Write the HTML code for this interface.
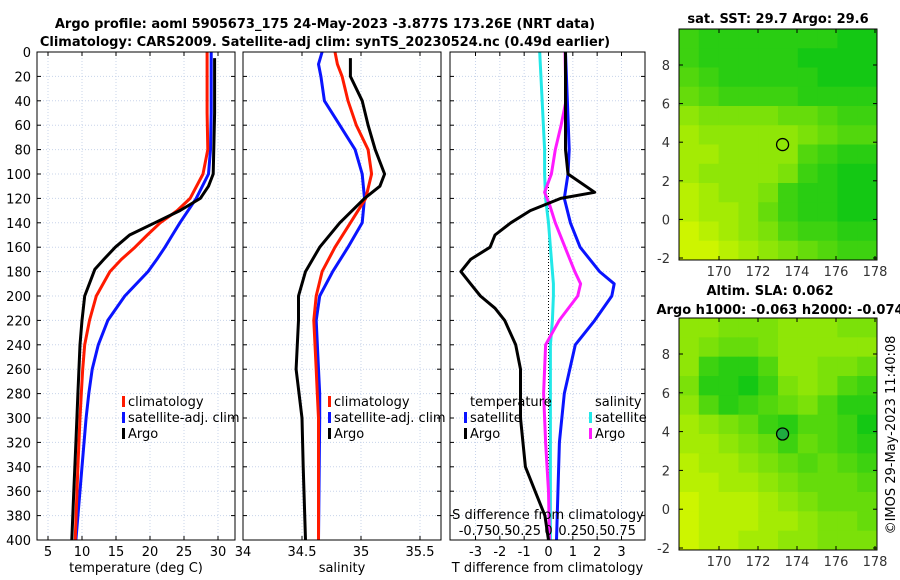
<!DOCTYPE html>
<html><head><meta charset="utf-8"><style>
body{margin:0;background:#fff}
svg{display:block;font-family:"DejaVu Sans","Liberation Sans",sans-serif}
</style></head><body>
<svg id="s" width="900" height="580" xmlns="http://www.w3.org/2000/svg">
<text x="325" y="28" font-size="13" font-weight="bold" text-anchor="middle">Argo profile: aoml 5905673_175 24-May-2023 -3.877S 173.26E (NRT data)</text>
<text x="325" y="46" font-size="13" font-weight="bold" text-anchor="middle">Climatology: CARS2009. Satellite-adj clim: synTS_20230524.nc (0.49d earlier)</text>
<text x="778" y="23" font-size="13" font-weight="bold" text-anchor="middle">sat. SST: 29.7 Argo: 29.6</text>
<text x="770" y="295" font-size="13" font-weight="bold" text-anchor="middle">Altim. SLA: 0.062</text>
<text x="780" y="314" font-size="13" font-weight="bold" text-anchor="middle">Argo h1000: -0.063 h2000: -0.074</text>
<text transform="translate(895,435) rotate(-90)" font-size="13" text-anchor="middle">©IMOS 29-May-2023 11:40:08</text>
</svg>
<script>
// ---- data ----
const depthsT = [0,50,80,100,120,130,140,150,160,170,180,200,220,240,260,280,300,340,400];
const tempClim = [28.4,28.4,28.5,27.8,25.9,24.0,21.5,19.6,17.8,15.8,14.1,12.1,11.1,10.4,10.1,9.9,9.7,9.4,9.0];
const tempSat  = [29.0,29.0,28.9,28.6,26.8,25.6,24.4,23.3,22.2,21.0,19.7,16.3,13.8,12.4,11.5,11.0,10.6,10.0,9.1];
const argoDepths = [5,50,100,110,120,130,140,150,160,170,178,200,220,240,280,320,360,400];
const tempArgo = [29.5,29.5,29.3,28.6,27.4,24.4,20.7,17.0,14.9,13.2,11.9,10.4,10.0,9.7,9.4,9.1,8.8,8.5];
const depthsS = [0,10,20,40,60,80,100,120,140,160,180,200,220,260,280,300,400];
const salClim = [34.78,34.80,34.84,34.89,34.96,35.06,35.09,35.04,34.91,34.78,34.67,34.62,34.60,34.62,34.63,34.64,34.64];
const salSat  = [34.67,34.64,34.66,34.69,34.82,34.95,35.01,35.03,35.01,34.89,34.76,34.65,34.62,34.64,34.65,34.65,34.64];
const salArgoDepths = [5,20,40,60,80,100,110,120,140,160,180,200,220,260,300,340,400];
const salArgo = [34.91,34.91,35.01,35.06,35.12,35.20,35.16,35.03,34.82,34.65,34.53,34.47,34.47,34.45,34.50,34.51,34.53];
const dDepths = [0,40,80,100,115,120,130,140,150,160,170,180,190,200,210,220,240,260,300,340,360,380,400];
const tDiffArgo = [0.7,0.7,0.7,0.8,1.9,0.5,-0.75,-1.55,-2.2,-2.4,-3.2,-3.6,-3.2,-2.8,-2.2,-1.8,-1.35,-1.15,-1.15,-0.95,-0.55,-0.15,0.0];
const sdDepths = [0,80,100,120,140,160,180,190,200,220,240,280,320,400];
const tDiffSat = [0.7,0.85,0.8,0.65,0.9,1.3,2.1,2.7,2.6,1.9,1.1,0.65,0.45,0.33];
const sDiffSat = [-0.09,-0.04,-0.04,-0.03,0.0,0.02,0.04,0.05,0.05,0.04,0.02,0.02,0.02,0.02];
const sdaDepths = [0,40,60,80,100,115,125,140,160,180,190,200,220,240,280,320,360,400];
const sDiffArgo = [0.17,0.18,0.13,0.07,0.03,-0.04,0.01,0.07,0.17,0.27,0.33,0.30,0.11,-0.03,-0.05,-0.03,0.0,0.01];
const depthTicks = [0,20,40,60,80,100,120,140,160,180,200,220,240,260,280,300,320,340,360,380,400];
const tTicks = [5,10,15,20,25,30];
const sTicks = [34,34.5,35,35.5];
const tdTicks = [-3,-2,-1,0,1,2,3];
const sdTicks = ["-0.75","-0.5","-0.25","0","0.25","0.5","0.75"];
const lonTicks = [170,172,174,176,178];
const latTicks = [-2,0,2,4,6,8];
const sstGrid = ["7888888899","7888889999","6788888999","5677778888","3444455677","2333334566","2233336788","2333347899","1233478899","1223578899","0123467788","0012345677"];
const slaGrid = ["3344433344","3455433333","3788633445","4889743467","3687654688","2345786679","2234575678","1223456567","1122345556","0111234555","0111223445","0112233444"];
const argoLon = 173.26, argoLat = 3.877;

// ---- helpers ----
const svg = document.getElementById('s');
const NS = 'http://www.w3.org/2000/svg';
function mk(tag, attrs, parent){ const e=document.createElementNS(NS,tag); for(const k in attrs) e.setAttribute(k,attrs[k]); (parent||svg).appendChild(e); return e; }
const Y0=52, Y1=540;
const yD = d => Y0 + d*(Y1-Y0)/400;
const panels = [
  {x0:37,x1:235,f:v=>48+(v-5)*6.8,ticks:tTicks,label:'temperature (deg C)',name:'temperature-panel'},
  {x0:243,x1:441,f:v=>243+(v-34)*118,ticks:sTicks,label:'salinity',name:'salinity-panel'},
  {x0:450,x1:645,f:v=>548.5+v*24.33,ticks:tdTicks,label:'T difference from climatology',name:'difference-panel'}
];
const sdX = v => 548.5 + v*97.3;

panels.forEach((p,i)=>{
  const g = mk('g',{});
  
  
  depthTicks.forEach(d=>{ if(d>0&&d<400){ const l=mk('line',{x1:p.x0,x2:p.x1,y1:yD(d),y2:yD(d),stroke:'#c8d4ea','stroke-dasharray':'1,2','stroke-width':1},g);
      }
    mk('line',{x1:p.x0,x2:p.x0+4,y1:yD(d),y2:yD(d),stroke:'#000'},g); mk('line',{x1:p.x1-4,x2:p.x1,y1:yD(d),y2:yD(d),stroke:'#000'},g);
    if(i===0){ const t=mk('text',{x:p.x0-6,y:yD(d)+5,'font-size':13,'text-anchor':'end'},g); t.textContent=d;
        }
  });
  p.ticks.forEach(v=>{ const x=p.f(v);
    if(x>p.x0+1&&x<p.x1-1){ const l=mk('line',{x1:x,x2:x,y1:Y0,y2:Y1,stroke:'#c8d4ea','stroke-dasharray':'1,2'},g);
        }
    mk('line',{x1:x,x2:x,y1:Y1,y2:Y1-4,stroke:'#000'},g); mk('line',{x1:x,x2:x,y1:Y0,y2:Y0+4,stroke:'#000'},g);
    const t=mk('text',{x:x,y:556,'font-size':13,'text-anchor':'middle'},g); t.textContent=v;
     
  });
  const lab=mk('text',{x:(p.x0+p.x1)/2,y:572,'font-size':13,'text-anchor':'middle'},g); lab.textContent=p.label;
   
});
mk('line',{x1:548.5,x2:548.5,y1:Y0,y2:Y1,stroke:'#000','stroke-dasharray':'1,2'});

function line(depths, vals, fx, color, name, w){
  const pts = depths.map((d,i)=>fx(vals[i]).toFixed(1)+','+yD(d).toFixed(1)).join(' ');
  const pl = mk('polyline',{points:pts,fill:'none',stroke:color,'stroke-width':w||3,'stroke-linejoin':'round'});
  
  
}
const fT=panels[0].f, fS=panels[1].f, fD=panels[2].f;
line(depthsT,tempSat,fT,'#0a14ff','temp-satellite-line');
line(depthsT,tempClim,fT,'#ff1a00','temp-climatology-line');
line(argoDepths,tempArgo,fT,'#000','temp-argo-line');
line(depthsS,salSat,fS,'#0a14ff','sal-satellite-line');
line(depthsS,salClim,fS,'#ff1a00','sal-climatology-line');
line(salArgoDepths,salArgo,fS,'#000','sal-argo-line');
line(sdDepths,sDiffSat,sdX,'#22e8e8','sdiff-satellite-line');
line(sdaDepths,sDiffArgo,sdX,'#ff1aff','sdiff-argo-line');
line(sdDepths,tDiffSat,fD,'#0a14ff','tdiff-satellite-line');
line(dDepths,tDiffArgo,fD,'#000','tdiff-argo-line');

panels.forEach(p=>{ const r=mk('rect',{x:p.x0,y:Y0,width:p.x1-p.x0,height:Y1-Y0,fill:'none',stroke:'#000'});
    });

const st=mk('text',{x:548,y:519,'font-size':13,'text-anchor':'middle'}); st.textContent='S difference from climatology';
 
sdTicks.forEach(v=>{ const t=mk('text',{x:sdX(parseFloat(v)),y:535,'font-size':13,'text-anchor':'middle'}); t.textContent=v;
    });

function leg(x,y,color,text,name){
  mk('rect',{x:x,y:y-10,width:3,height:11,fill:color});
  const t=mk('text',{x:x+6,y:y,'font-size':13}); t.textContent=text;
   
}
leg(122,406,'#ff1a00','climatology','legend-climatology');
leg(122,422,'#0a14ff','satellite-adj. clim','legend-satellite');
leg(122,438,'#000','Argo','legend-argo');
leg(328,406,'#ff1a00','climatology','legend-climatology-s');
leg(328,422,'#0a14ff','satellite-adj. clim','legend-satellite-s');
leg(328,438,'#000','Argo','legend-argo-s');
const tt=mk('text',{x:470,y:406,'font-size':13}); tt.textContent='temperature';
 
const sh=mk('text',{x:595,y:406,'font-size':13}); sh.textContent='salinity';
 
leg(464,422,'#0a14ff','satellite','legend-tdiff-satellite');
leg(464,438,'#000','Argo','legend-tdiff-argo');
leg(589,422,'#22e8e8','satellite','legend-sdiff-satellite');
leg(589,438,'#ff1aff','Argo','legend-sdiff-argo');

function colorOf(v){ const t=v/9; const a=[205,245,0], b=[20,200,20];
  return 'rgb('+a.map((c,i)=>Math.round(c+(b[i]-c)*t)).join(',')+')'; }
function map(grid, y0, y1, name, filledMarker){
  const x0=679,x1=877;
  const g=mk('g',{});  
  const rows=grid.length, cols=grid[0].length, cw=(x1-x0)/cols, ch=(y1-y0)/rows;
  grid.forEach((r,ri)=>{ for(let ci=0;ci<cols;ci++){
    mk('rect',{x:x0+ci*cw,y:y0+ri*ch,width:cw+0.5,height:ch+0.5,fill:colorOf(+r[ci])},g); } });
  const lonX=v=>719+(v-170)*19.5;
  const ly = v => (y1-2) - (v+2)*((y1-2)-(y0+36))/10;
  lonTicks.forEach(v=>{ const x=lonX(v); mk('line',{x1:x,x2:x,y1:y1,y2:y1-4,stroke:'#000'},g); mk('line',{x1:x,x2:x,y1:y0,y2:y0+4,stroke:'#000'},g);
    const t=mk('text',{x:x,y:y1+16,'font-size':13,'text-anchor':'middle',fill:'#333'},g); t.textContent=v;
      });
  latTicks.forEach(v=>{ const y=ly(v); mk('line',{x1:x0,x2:x0+4,y1:y,y2:y,stroke:'#000'},g); mk('line',{x1:x1-4,x2:x1,y1:y,y2:y,stroke:'#000'},g);
    const t=mk('text',{x:x0-9,y:y+5,'font-size':13,'text-anchor':'end',fill:'#333'},g); t.textContent=v;
      });
  mk('rect',{x:x0,y:y0,width:x1-x0,height:y1-y0,fill:'none',stroke:'#000'},g);
  const m=mk('circle',{cx:lonX(argoLon),cy:ly(argoLat),r:6,fill:filledMarker?'#1faa40':'none',stroke:'#000','stroke-width':1.3},g);
   
}
map(sstGrid,29,260,'sst-map',false);
map(slaGrid,318,550,'sla-map',true);
</script>
</body></html>
